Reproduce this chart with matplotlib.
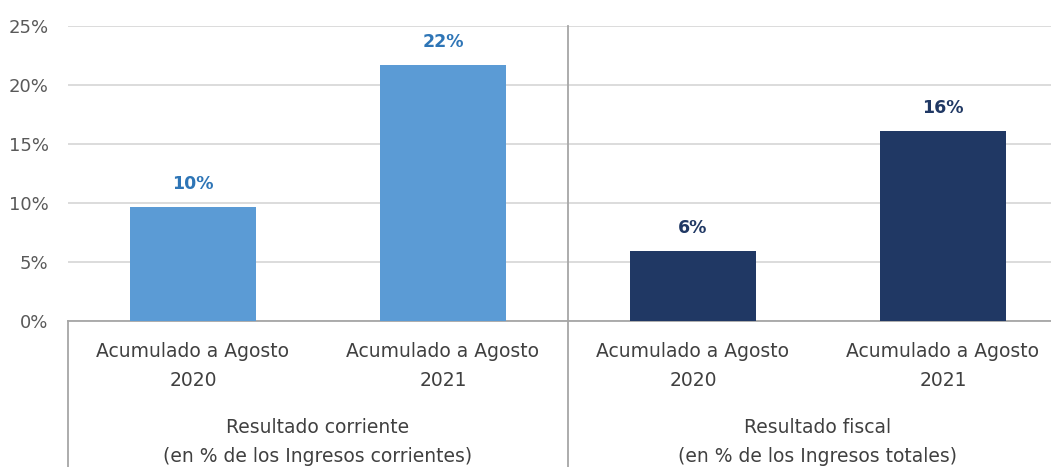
import matplotlib.pyplot as plt
import matplotlib.transforms as mtransforms
from matplotlib.ticker import PercentFormatter

# data
groups = ['Resultado corriente\n(en % de los Ingresos corrientes)',
          'Resultado fiscal\n(en % de los Ingresos totales)']
periods = ['Acumulado a Agosto\n2020', 'Acumulado a Agosto\n2021']
corriente = [0.097, 0.217]
fiscal = [0.059, 0.161]
labels_corriente = ['10%', '22%']
labels_fiscal = ['6%', '16%']

bar_colors = ['#5B9BD5', '#203864']
label_colors = ['#2E75B6', '#203864']

fig = plt.figure(figsize=(10.51, 4.67), dpi=100)
ax = fig.add_axes([68/1051, 146/467, 1000/1051, 295/467])

series = [corriente, fiscal]
value_labels = [labels_corriente, labels_fiscal]
for g in range(len(groups)):
    xs = [g*len(periods) + i + 0.5 for i in range(len(periods))]
    ax.bar(xs, series[g], width=0.505, color=bar_colors[g], zorder=3)
    for x, v, lab in zip(xs, series[g], value_labels[g]):
        ax.annotate(lab, (x, v), xytext=(0, 14), textcoords='offset pixels',
                    ha='center', va='bottom', fontsize=12.5, fontweight='bold',
                    color=label_colors[g])

ax.set_xlim(0, 4)
ax.set_ylim(0, 0.25)
ax.set_yticks([0, 0.05, 0.10, 0.15, 0.20, 0.25])
ax.yaxis.set_major_formatter(PercentFormatter(1.0, decimals=0))
ax.grid(axis='y', color='#D9D9D9', linewidth=1.3, zorder=0)
ax.set_axisbelow(True)
for s in ['top', 'right', 'left']:
    ax.spines[s].set_visible(False)
ax.spines['bottom'].set_color('#A6A6A6')
ax.spines['bottom'].set_linewidth(1.3)
ax.tick_params(axis='y', length=0, labelsize=13, colors='#595959', pad=14)
ax.tick_params(axis='x', length=0)
ax.set_xticks([])

# multi-level category axis below the plot
trans = mtransforms.blended_transform_factory(ax.transData, ax.transAxes)
bottom = -146/295
ax.plot([0, 0], [0, bottom], transform=trans, color='#A6A6A6', lw=1.3, clip_on=False)
ax.plot([2, 2], [1.0, bottom], transform=trans, color='#A6A6A6', lw=1.3, clip_on=False)
ax.plot([4, 4], [0, bottom], transform=trans, color='#A6A6A6', lw=1.3, clip_on=False)

for g in range(len(groups)):
    for i, p in enumerate(periods):
        ax.text(g*len(periods) + i + 0.5, -0.072, p, transform=trans, ha='center', va='top',
                fontsize=13.5, color='#404040', linespacing=1.65)
    ax.text(g*len(periods) + 1, -0.33, groups[g], transform=trans, ha='center', va='top',
            fontsize=13.5, color='#404040', linespacing=1.65)

fig.savefig('out.png', dpi=100)
